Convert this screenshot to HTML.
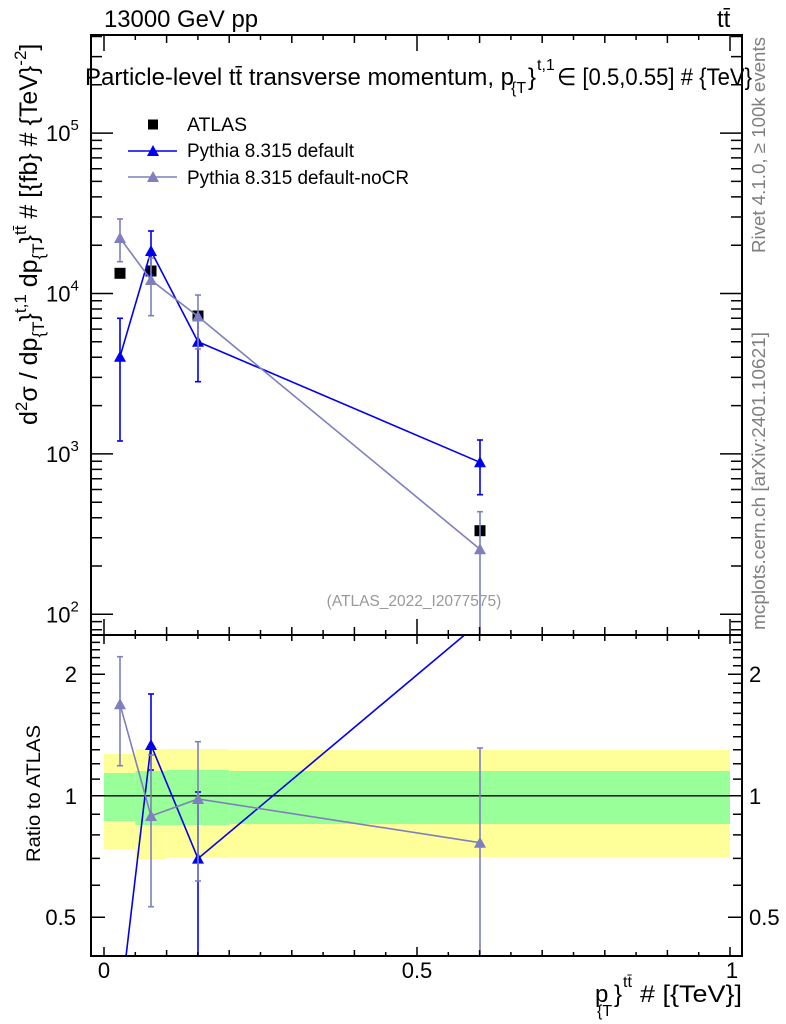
<!DOCTYPE html>
<html><head><meta charset="utf-8"><style>
html,body{margin:0;padding:0;background:#fff;}
svg{display:block;font-family:"Liberation Sans",Arial,sans-serif;}
</style></head><body>
<svg width="786" height="1024" viewBox="0 0 786 1024" xmlns="http://www.w3.org/2000/svg">
<defs>
<clipPath id="cm"><rect x="91" y="35" width="651" height="600"/></clipPath>
<clipPath id="cr"><rect x="91" y="635" width="651" height="321"/></clipPath>
</defs>
<rect width="786" height="1024" fill="#fff"/>

<!-- ratio bands -->
<g clip-path="url(#cr)">
<rect x="104" y="754" width="31.3" height="95" fill="#ffff99"/>
<rect x="135.3" y="749" width="31.3" height="110" fill="#ffff99"/>
<rect x="166.6" y="749" width="62.6" height="109" fill="#ffff99"/>
<rect x="229.2" y="750" width="500.8" height="107" fill="#ffff99"/>
<rect x="104" y="773" width="31.3" height="48" fill="#99ff99"/>
<rect x="135.3" y="771" width="31.3" height="54" fill="#99ff99"/>
<rect x="166.6" y="770" width="62.6" height="55" fill="#99ff99"/>
<rect x="229.2" y="771" width="500.8" height="53" fill="#99ff99"/>
<line x1="91" y1="795.8" x2="742" y2="795.8" stroke="#000" stroke-width="1.3"/>

<!-- blue ratio -->
<g stroke="#0000ee" stroke-width="1.6" fill="none">
<polyline points="120,1007 151,745 198,858.6 480,622"/>
<line x1="151" y1="694" x2="151" y2="770"/><line x1="148" y1="694" x2="154" y2="694"/><line x1="148" y1="770" x2="154" y2="770"/>
<line x1="198" y1="792" x2="198" y2="960"/><line x1="195" y1="792" x2="201" y2="792"/>
</g>
<g fill="#0000ee">
<polygon points="145,750 157,750 151,739"/>
<polygon points="192,863.6 204,863.6 198,852.6"/>
</g>
<!-- purple ratio -->
<g stroke="#7f7fbf" stroke-width="1.6" fill="none">
<polyline points="120,704.3 151,816 198,799 480,842.7"/>
<line x1="120" y1="656.7" x2="120" y2="765.7"/><line x1="117" y1="656.7" x2="123" y2="656.7"/><line x1="117" y1="765.7" x2="123" y2="765.7"/>
<line x1="151" y1="755" x2="151" y2="906.7"/><line x1="148" y1="755" x2="154" y2="755"/><line x1="148" y1="906.7" x2="154" y2="906.7"/>
<line x1="198" y1="741.7" x2="198" y2="881"/><line x1="195" y1="741.7" x2="201" y2="741.7"/><line x1="195" y1="881" x2="201" y2="881"/>
<line x1="480" y1="748" x2="480" y2="960"/><line x1="477" y1="748" x2="483" y2="748"/>
</g>
<g fill="#7f7fbf">
<polygon points="114,709.3 126,709.3 120,698.3"/>
<polygon points="145,821 157,821 151,810"/>
<polygon points="192,804 204,804 198,793"/>
<polygon points="474,847.7 486,847.7 480,836.7"/>
</g>
</g>

<!-- main data -->
<g clip-path="url(#cm)">
<g fill="#000">
<rect x="114.5" y="267.8" width="11" height="11"/>
<rect x="145.5" y="265.5" width="11" height="11"/>
<rect x="192.5" y="310.5" width="11" height="11"/>
<rect x="474.5" y="525.2" width="11" height="11"/>
</g>
<g stroke="#0000ee" stroke-width="1.6" fill="none">
<polyline points="120,356.7 151,251 198,341.7 480,462.3"/>
<line x1="120" y1="318.3" x2="120" y2="441"/><line x1="117" y1="318.3" x2="123" y2="318.3"/><line x1="117" y1="441" x2="123" y2="441"/>
<line x1="151" y1="231" x2="151" y2="275"/><line x1="148" y1="231" x2="154" y2="231"/><line x1="148" y1="275" x2="154" y2="275"/>
<line x1="198" y1="315" x2="198" y2="381.7"/><line x1="195" y1="315" x2="201" y2="315"/><line x1="195" y1="381.7" x2="201" y2="381.7"/>
<line x1="480" y1="440" x2="480" y2="494.7"/><line x1="477" y1="440" x2="483" y2="440"/><line x1="477" y1="494.7" x2="483" y2="494.7"/>
</g>
<g fill="#0000ee">
<polygon points="114,361.7 126,361.7 120,350.7"/>
<polygon points="145,256 157,256 151,245"/>
<polygon points="192,346.7 204,346.7 198,335.7"/>
<polygon points="474,467.3 486,467.3 480,456.3"/>
</g>
<g stroke="#7f7fbf" stroke-width="1.6" fill="none">
<polyline points="120,238 151,280 198,316.5 480,549.3"/>
<line x1="120" y1="219" x2="120" y2="261.7"/><line x1="117" y1="219" x2="123" y2="219"/><line x1="117" y1="261.7" x2="123" y2="261.7"/>
<line x1="151" y1="258" x2="151" y2="315.7"/><line x1="148" y1="258" x2="154" y2="258"/><line x1="148" y1="315.7" x2="154" y2="315.7"/>
<line x1="198" y1="295" x2="198" y2="349"/><line x1="195" y1="295" x2="201" y2="295"/><line x1="195" y1="349" x2="201" y2="349"/>
<line x1="480" y1="511.7" x2="480" y2="660"/><line x1="477" y1="511.7" x2="483" y2="511.7"/>
</g>
<g fill="#7f7fbf">
<polygon points="114,243 126,243 120,232"/>
<polygon points="145,285 157,285 151,274"/>
<polygon points="192,321.5 204,321.5 198,310.5"/>
<polygon points="474,554.3 486,554.3 480,543.3"/>
</g>
</g>

<!-- frames -->
<g fill="none" stroke="#000" stroke-width="2">
<rect x="91" y="35" width="651" height="600"/>
<rect x="91" y="635" width="651" height="321"/>
</g>

<!-- x ticks -->
<g stroke="#000" stroke-width="1.5">
<path d="M104,35v16M417,35v16M730,35v16 M104,635v-16M417,635v-16M730,635v-16 M104,635v9M417,635v9M730,635v9 M104,956v-9M417,956v-9M730,956v-9"/>
<path d="M166.6,35v8M229.2,35v8M291.8,35v8M354.4,35v8M479.6,35v8M542.2,35v8M604.8,35v8M667.4,35v8
M166.6,635v-8M229.2,635v-8M291.8,635v-8M354.4,635v-8M479.6,635v-8M542.2,635v-8M604.8,635v-8M667.4,635v-8
M166.6,635v6M229.2,635v6M291.8,635v6M354.4,635v6M479.6,635v6M542.2,635v6M604.8,635v6M667.4,635v6
M166.6,956v-6M229.2,956v-6M291.8,956v-6M354.4,956v-6M479.6,956v-6M542.2,956v-6M604.8,956v-6M667.4,956v-6"/>
<path d="M135.3,35v5M197.9,35v5M260.5,35v5M323.1,35v5M385.7,35v5M448.3,35v5M510.9,35v5M573.5,35v5M636.1,35v5M698.7,35v5
M135.3,635v-5M197.9,635v-5M260.5,635v-5M323.1,635v-5M385.7,635v-5M448.3,635v-5M510.9,635v-5M573.5,635v-5M636.1,635v-5M698.7,635v-5
M135.3,635v4M197.9,635v4M260.5,635v4M323.1,635v4M385.7,635v4M448.3,635v4M510.9,635v4M573.5,635v4M636.1,635v4M698.7,635v4
M135.3,956v-4M197.9,956v-4M260.5,956v-4M323.1,956v-4M385.7,956v-4M448.3,956v-4M510.9,956v-4M573.5,956v-4M636.1,956v-4M698.7,956v-4"/>
<path d="M91,614.3h22M91,453.9h22M91,293.5h22M91,133.1h22 M742,614.3h-22M742,453.9h-22M742,293.5h-22M742,133.1h-22"/>
<path d="M91,629.8h11M91,621.6h11M91,566h11M91,537.8h11M91,517.7h11M91,502.2h11M91,489.5h11M91,478.7h11M91,469.4h11M91,461.2h11
M91,405.6h11M91,377.4h11M91,357.3h11M91,341.8h11M91,329.1h11M91,318.3h11M91,309h11M91,300.8h11
M91,245.2h11M91,217h11M91,196.9h11M91,181.4h11M91,168.7h11M91,157.9h11M91,148.6h11M91,140.4h11
M91,84.8h11M91,56.6h11M91,36.5h11"/>
<path d="M742,629.8h-11M742,621.6h-11M742,566h-11M742,537.8h-11M742,517.7h-11M742,502.2h-11M742,489.5h-11M742,478.7h-11M742,469.4h-11M742,461.2h-11
M742,405.6h-11M742,377.4h-11M742,357.3h-11M742,341.8h-11M742,329.1h-11M742,318.3h-11M742,309h-11M742,300.8h-11
M742,245.2h-11M742,217h-11M742,196.9h-11M742,181.4h-11M742,168.7h-11M742,157.9h-11M742,148.6h-11M742,140.4h-11
M742,84.8h-11M742,56.6h-11M742,36.5h-11"/>
<path d="M91,917.3h14M91,795.8h14M91,674.3h14 M742,917.3h-14M742,795.8h-14M742,674.3h-14"/>
<path d="M91,885.3h9M91,858.4h9M91,834.9h9M91,814.3h9M91,779.1h9M91,763.8h9M91,749.8h9M91,736.8h9M91,724.7h9M91,713.4h9M91,702.8h9M91,692.8h9M91,683.3h9M91,665.8h9M91,657.6h9M91,649.8h9M91,642.4h9
M742,885.3h-9M742,858.4h-9M742,834.9h-9M742,814.3h-9M742,779.1h-9M742,763.8h-9M742,749.8h-9M742,736.8h-9M742,724.7h-9M742,713.4h-9M742,702.8h-9M742,692.8h-9M742,683.3h-9M742,665.8h-9M742,657.6h-9M742,649.8h-9M742,642.4h-9"/>
</g>

<!-- tick labels -->
<g font-size="22" fill="#000">
<text x="46" y="141">10<tspan font-size="15" dy="-11">5</tspan></text>
<text x="46" y="301.5">10<tspan font-size="15" dy="-11">4</tspan></text>
<text x="46" y="462">10<tspan font-size="15" dy="-11">3</tspan></text>
<text x="46" y="622.3">10<tspan font-size="15" dy="-11">2</tspan></text>
<text x="77" y="682" text-anchor="end">2</text>
<text x="77" y="804" text-anchor="end">1</text>
<text x="76" y="925" text-anchor="end">0.5</text>
<text x="749" y="682">2</text>
<text x="749" y="804">1</text>
<text x="749" y="925">0.5</text>
<text x="104" y="978" text-anchor="middle">0</text>
<text x="417" y="978" text-anchor="middle">0.5</text>
<text x="732" y="978" text-anchor="middle">1</text>
</g>

<text x="104" y="27" font-size="24" textLength="154" lengthAdjust="spacingAndGlyphs">13000 GeV pp</text>
<text x="717" y="27" font-size="24">tt̄</text>

<g font-size="24">
<text x="85" y="85" textLength="429" lengthAdjust="spacingAndGlyphs">Particle-level tt̄ transverse momentum, p</text>
<text x="511" y="93" font-size="16">{T</text>
<text x="528" y="85">}</text>
<text x="537" y="70" font-size="16">t,1</text>
<text x="557" y="85" textLength="195" lengthAdjust="spacingAndGlyphs">∈ [0.5,0.55] # {TeV}</text>
</g>

<rect x="148" y="119.5" width="10" height="10" fill="#000"/>
<text x="187" y="131" font-size="19" textLength="60" lengthAdjust="spacingAndGlyphs">ATLAS</text>
<line x1="128" y1="151" x2="177" y2="151" stroke="#0000ee" stroke-width="1.6"/>
<polygon points="147,156 159,156 153,145" fill="#0000ee"/>
<text x="187" y="157" font-size="19" textLength="167" lengthAdjust="spacingAndGlyphs">Pythia 8.315 default</text>
<line x1="128" y1="177" x2="177" y2="177" stroke="#7f7fbf" stroke-width="1.6"/>
<polygon points="147,182 159,182 153,171" fill="#7f7fbf"/>
<text x="187" y="184" font-size="19" textLength="222" lengthAdjust="spacingAndGlyphs">Pythia 8.315 default-noCR</text>

<text x="414" y="606" font-size="15.5" fill="#999" text-anchor="middle">(ATLAS_2022_I2077575)</text>

<text transform="translate(765,253) rotate(-90)" font-size="18.5" fill="#808080" textLength="216" lengthAdjust="spacingAndGlyphs">Rivet 4.1.0, ≥ 100k events</text>
<text transform="translate(765,630) rotate(-90)" font-size="18.5" fill="#808080" textLength="298" lengthAdjust="spacingAndGlyphs">mcplots.cern.ch [arXiv:2401.10621]</text>

<text transform="translate(37,425) rotate(-90)" font-size="25">d<tspan font-size="17" dy="-10">2</tspan><tspan dy="10">σ / dp</tspan><tspan font-size="17" dy="7">{T</tspan><tspan dy="-7">}</tspan><tspan font-size="17" dy="-11">t,1</tspan><tspan dy="11"> dp</tspan><tspan font-size="17" dy="7">{T</tspan><tspan dy="-7">}</tspan><tspan font-size="17" dy="-11">tt̄</tspan><tspan dy="11"> # [{fb} # {TeV}</tspan><tspan font-size="17" dy="-11">-2</tspan><tspan dy="11">]</tspan></text>

<text transform="translate(40,862) rotate(-90)" font-size="19.5" textLength="137" lengthAdjust="spacingAndGlyphs">Ratio to ATLAS</text>

<g font-size="24">
<text x="595" y="1002">p</text>
<text x="597" y="1016" font-size="16">{T</text>
<text x="614" y="1002">}</text>
<text x="623" y="987" font-size="16">tt̄</text>
<text x="640" y="1002" textLength="102" lengthAdjust="spacingAndGlyphs"># [{TeV}]</text>
</g>
</svg>
</body></html>
